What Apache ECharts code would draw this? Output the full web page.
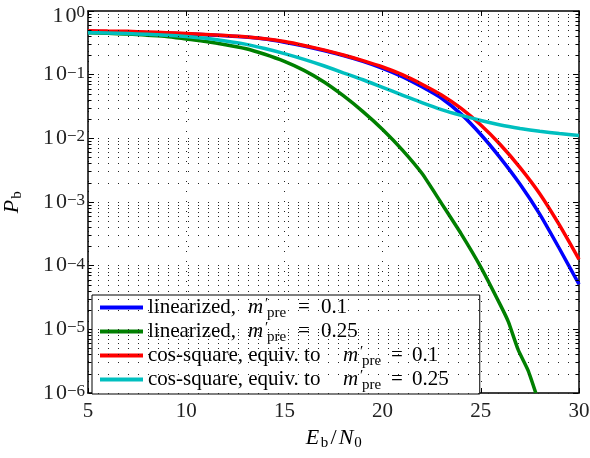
<!DOCTYPE html>
<html>
<head>
<meta charset="utf-8">
<script src="https://cdn.jsdelivr.net/npm/echarts@6/dist/echarts.min.js"></script>
<style>
    html, body {margin: 0; padding: 0; background: #fff;}
    #main {width: 590px; height: 458px;}
</style>
</head>
<body>
<div id="main"></div>
<script>
    // Eb/N0 (dB)
    var ebn0 = [5, 6, 7, 8, 9, 10, 11, 12, 13, 14, 15, 16, 17, 18, 19, 20, 21, 22, 23, 24, 25, 26, 27, 28, 29, 30];
    var ebn0Green = [5, 6, 7, 8, 9, 10, 11, 12, 13, 14, 15, 16, 17, 18, 19, 20, 21, 22, 23, 24, 25, 26, 26.4, 26.9, 27.4, 27.8];

    // Pb values
    var linear01 = [0.479, 0.473, 0.468, 0.457, 0.447, 0.437, 0.422, 0.407, 0.389, 0.363, 0.324, 0.282, 0.240, 0.200, 0.162,
        0.126, 0.0933, 0.0646, 0.0427, 0.0240, 0.0115, 0.0049, 0.0019, 6.46e-4, 1.86e-4, 5.1e-5];
    var linear025 = [0.457, 0.447, 0.437, 0.417, 0.398, 0.363, 0.331, 0.295, 0.257, 0.209, 0.162, 0.117, 0.0776, 0.0468, 0.0263,
        0.0138, 0.0066, 0.00282, 9.5e-4, 3.16e-4, 9.5e-5, 2.4e-5, 1.32e-5, 4.8e-6, 2.29e-6, 1e-6];
    var cosSq01 = [0.490, 0.484, 0.479, 0.468, 0.457, 0.442, 0.427, 0.412, 0.394, 0.367, 0.331, 0.288, 0.245, 0.204, 0.166,
        0.132, 0.100, 0.0708, 0.0479, 0.0295, 0.0162, 0.00794, 0.00347, 0.00135, 4.37e-4, 1.26e-4];
    var cosSq025 = [0.457, 0.452, 0.442, 0.431, 0.417, 0.398, 0.372, 0.339, 0.302, 0.257, 0.214, 0.174, 0.138, 0.107, 0.0832,
        0.0631, 0.0479, 0.0363, 0.0282, 0.0229, 0.0191, 0.0162, 0.0143, 0.0129, 0.0119, 0.0111];

    var seriesNames = ['lin01', 'lin025', 'cos01', 'cos025'];
    var legendLabels = {
        lin01: '{a|linearized,}{m|m}{p|\u2032}{s|pre}{e|=}{t|0.1}',
        lin025: '{a|linearized,}{m|m}{p|\u2032}{s|pre}{e|=}{t|0.25}',
        cos01: '{b|cos-square, equiv. to}{m2|m}{p|\u2032}{s2|pre}{e2|=}{t|0.1}',
        cos025: '{b|cos-square, equiv. to}{m2|m}{p|\u2032}{s2|pre}{e2|=}{t|0.25}'
    };

    var serif = '"Liberation Serif", "DejaVu Serif", serif';
    var dotStyle = {color: '#222', width: 1, type: [1, 9]};

    // horizontal grid at every log tick (1..9 x 10^k), short solid minor ticks at both sides
    var gridLevels = [];
    var minorTicks = [];
    for (var k = -6; k < 0; k++) {
        for (var m = 1; m < 10; m++) {
            var lv = m * Math.pow(10, k);
            gridLevels.push({yAxis: lv});
            if (m > 1) {
                minorTicks.push([{coord: [5, lv]}, {coord: [5.18, lv]}]);
                minorTicks.push([{coord: [29.82, lv]}, {coord: [30, lv]}]);
            }
        }
    }

    function pairs(xs, ys) {
        var out = [];
        for (var i = 0; i < ys.length; i++) {
            out.push([xs[i], ys[i]]);
        }
        return out;
    }

    function tok(size, extra) {
        var st = {fontFamily: serif, fontSize: size, lineHeight: size, verticalAlign: 'top', color: '#000'};
        for (var key in extra) {
            st[key] = extra[key];
        }
        return st;
    }

    var legendRich = {
        a: tok(21, {width: 100}),
        b: tok(21, {width: 195}),
        t: tok(21, {}),
        m: tok(21, {width: 17, fontStyle: 'italic'}),
        m2: tok(21, {width: 17, fontStyle: 'italic'}),
        p: tok(15, {width: 2}),
        s: tok(15, {width: 31, padding: [9, 0, 0, 0]}),
        s2: tok(15, {width: 29, padding: [9, 0, 0, 0]}),
        e: tok(21, {width: 23}),
        e2: tok(21, {width: 21})
    };

    var nameRich = {
        E: tok(22, {width: 15, fontStyle: 'italic'}),
        N: tok(22, {width: 16, fontStyle: 'italic'}),
        P: tok(22, {width: 14, fontStyle: 'italic'}),
        sl: tok(22, {width: 9}),
        sb: tok(15, {width: 9, padding: [9, 0, 0, 0]}),
        s0: tok(15, {width: 8, padding: [9, 0, 0, 0]})
    };

    var myChart = echarts.init(document.getElementById('main'), null, {renderer: 'canvas'});

    function lineSeries(name, color, data) {
        return {
            name: name,
            type: 'line',
            data: data,
            showSymbol: false,
            symbol: 'none',
            smooth: 0.2,
            clip: true,
            lineStyle: {color: color, width: 3.5},
            itemStyle: {color: color}
        };
    }

    var option = {
        animation: false,
        backgroundColor: '#fff',
        grid: {left: 88, right: 11, top: 11, bottom: 65, outerBoundsMode: 'none'},
        legend: {
            data: seriesNames,
            orient: 'vertical',
            left: 92,
            top: 295,
            icon: 'rect',
            itemWidth: 43,
            itemHeight: 4,
            itemGap: 0,
            padding: [2, 31, 1, 8],
            borderColor: '#000',
            borderWidth: 1,
            backgroundColor: '#fff',
            formatter: function (name) {
                return legendLabels[name];
            },
            textStyle: {rich: legendRich}
        },
        xAxis: [
            {
                type: 'value',
                min: 5,
                max: 30,
                interval: 5,
                name: '{E|E}{sb|b}{sl|/}{N|N}{s0|0}',
                nameLocation: 'middle',
                nameGap: 34,
                nameTextStyle: {rich: nameRich},
                axisLine: {lineStyle: {color: '#000', width: 1.5}},
                axisTick: {inside: true, length: 5, lineStyle: {color: '#000'}},
                axisLabel: {fontFamily: serif, fontSize: 21, color: '#222', margin: 8},
                splitLine: {show: true, lineStyle: dotStyle}
            },
            {
                type: 'value',
                position: 'top',
                min: 5,
                max: 30,
                interval: 5,
                axisLine: {show: true, lineStyle: {color: '#000', width: 1.5}},
                axisTick: {show: true, inside: true, length: 5, lineStyle: {color: '#000'}},
                axisLabel: {show: false},
                splitLine: {show: false}
            }
        ],
        yAxis: [
            {
                type: 'log',
                logBase: 10,
                min: 1e-6,
                max: 1,
                name: '{P|P}{sb|b}',
                nameLocation: 'middle',
                nameGap: 65,
                nameTextStyle: {rich: nameRich},
                axisLine: {show: true, lineStyle: {color: '#000', width: 1.5}},
                axisTick: {show: true, inside: true, length: 6, lineStyle: {color: '#000'}},
                axisLabel: {
                    margin: 3,
                    formatter: function (v) {
                        var e = Math.round(Math.log(v) / Math.LN10);
                        if (e === 0) {
                            return '{d0|1}{d0|0}{u0|0}';
                        }
                        return '{d|1}{d|0}{u|\u2212' + (-e) + '}';
                    },
                    rich: {
                        d: {fontFamily: serif, fontSize: 22, lineHeight: 20, width: 13, color: '#222'},
                        u: {fontFamily: serif, fontSize: 17, lineHeight: 12, verticalAlign: 'top', color: '#222'},
                        d0: {fontFamily: serif, fontSize: 22, lineHeight: 20, width: 13, color: '#222', padding: [10, 0, 0, 0]},
                        u0: {fontFamily: serif, fontSize: 17, lineHeight: 12, verticalAlign: 'top', color: '#222', padding: [3, 0, 0, 0]}
                    }
                },
                splitLine: {show: false}
            },
            {
                type: 'log',
                logBase: 10,
                min: 1e-6,
                max: 1,
                position: 'right',
                axisLine: {show: true, lineStyle: {color: '#000', width: 1.5}},
                axisTick: {show: true, inside: true, length: 6, lineStyle: {color: '#000'}},
                axisLabel: {show: false},
                splitLine: {show: false}
            }
        ],
        series: [
            {
                name: 'grid',
                type: 'line',
                data: [],
                silent: true,
                markLine: {
                    silent: true,
                    symbol: 'none',
                    precision: 10,
                    label: {show: false},
                    lineStyle: dotStyle,
                    data: gridLevels
                }
            },
            {
                name: 'minorTicks',
                type: 'line',
                data: [],
                silent: true,
                markLine: {
                    silent: true,
                    symbol: 'none',
                    precision: 10,
                    label: {show: false},
                    lineStyle: {color: '#000', width: 1, type: 'solid'},
                    data: minorTicks
                }
            },
            lineSeries('lin01', '#0000ff', pairs(ebn0, linear01)),
            lineSeries('lin025', '#008000', pairs(ebn0Green, linear025)),
            lineSeries('cos01', '#ff0000', pairs(ebn0, cosSq01)),
            lineSeries('cos025', '#00bfbf', pairs(ebn0, cosSq025))
        ]
    };

    myChart.setOption(option);
</script>
</body>
</html>
